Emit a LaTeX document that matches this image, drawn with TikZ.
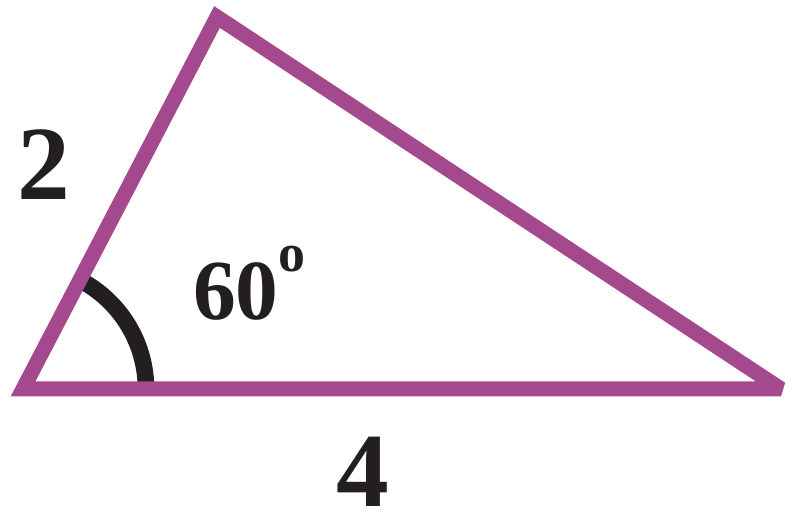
\documentclass[tikz,border=0pt]{standalone}
\usepackage{fontspec}
\setmainfont{Liberation Serif}
\definecolor{sidepurple}{RGB}{164,73,141}
\definecolor{inkblack}{RGB}{35,31,32}

\begin{document}
\begin{tikzpicture}[x=0.03cm, y=-0.03cm]
   \tikzstyle{side}=[draw=sidepurple, line width=0.45cm, line join=miter, miter limit=2.5]
   \tikzstyle{anglemark}=[draw=inkblack, line width=0.5cm]
   \tikzstyle{every node}=[text=inkblack, font=\bfseries, inner sep=0pt]

\useasboundingbox (0,0) rectangle (800,515);

\coordinate (A) at (23,389);
\coordinate (B) at (217,17);
\coordinate (C) at (781,389);

\draw[anglemark] (A) ++(0:123) arc[start angle=0, end angle=-62.4, radius=123];
\draw[side] (A) -- (B) -- (C) -- cycle;

\node[font=\fontsize{90}{90}\bfseries\selectfont] (sideab) at (44,165) {2};
\node[font=\fontsize{90}{90}\bfseries\selectfont, anchor=base] (sideac) at (363,507) {4};
\node[font=\fontsize{73}{73}\bfseries\selectfont, anchor=base west] (angle) at (193,320)
    {60\fontsize{46}{46}\selectfont\raisebox{1.45cm}{o}};

\end{tikzpicture}
\end{document}
